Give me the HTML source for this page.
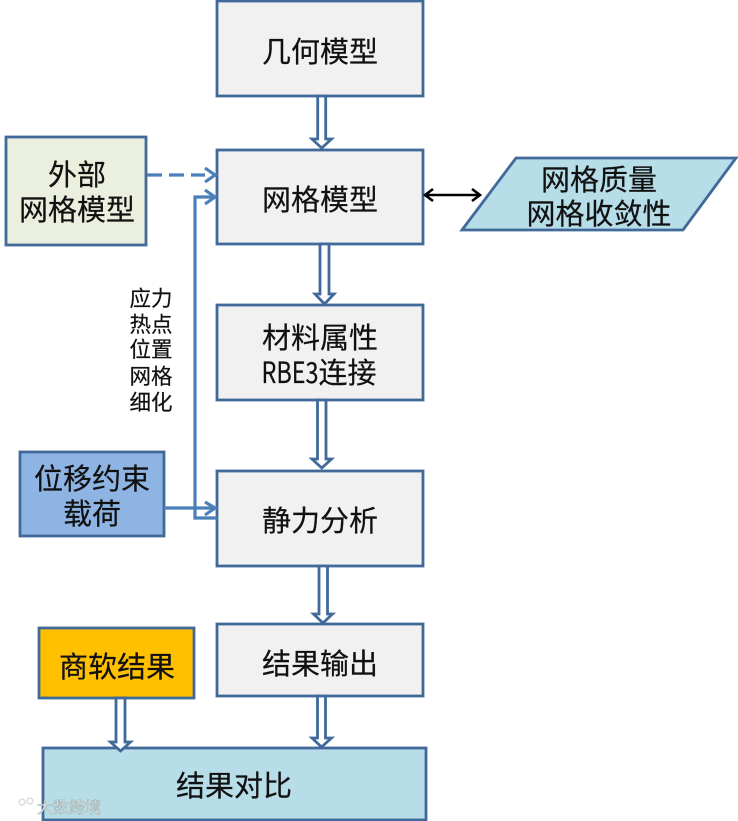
<!DOCTYPE html>
<html><head><meta charset="utf-8"><style>
html,body{margin:0;padding:0;background:#fff}
svg{display:block}
text{font-family:"Noto Sans CJK SC","Liberation Sans",sans-serif;fill:#111;stroke:#111;stroke-width:.2;text-anchor:middle}
.box{fill:#f1f1f2;stroke:#41699a;stroke-width:2.8}
.ar{fill:#fff;stroke:#41699a;stroke-width:2.8;stroke-linejoin:miter}
.t{font-size:29px}
.s{font-size:21.5px}
.l{fill:none;stroke:#4a7fba;stroke-width:3.2}
</style></head><body>
<svg width="738" height="821" viewBox="0 0 738 821" xmlns="http://www.w3.org/2000/svg">
<rect class="box" x="217" y="1" width="206" height="95"/>
<rect class="box" x="217" y="150" width="206" height="94"/>
<rect class="box" x="217" y="305" width="206" height="95"/>
<rect class="box" x="217" y="471" width="206" height="95"/>
<rect class="box" x="217" y="624" width="206" height="72"/>
<rect x="6" y="137" width="140" height="108" fill="#ebf0de" stroke="#41699a" stroke-width="2.8"/>
<rect x="20" y="452" width="144" height="84" fill="#8eb4e3" stroke="#41699a" stroke-width="2.8"/>
<rect x="39" y="628" width="155" height="70" fill="#ffc000" stroke="#41699a" stroke-width="2.8"/>
<rect x="43" y="748" width="383" height="72" fill="#b7dde8" stroke="#41699a" stroke-width="2.8"/>
<polygon points="516,158 736,158 683,230 462,230" fill="#b7dde8" stroke="#41699a" stroke-width="2.8"/>

<polygon class="ar" points="317.7,96 325.7,96 325.7,139 331.5,139 321.7,148 312,139 317.7,139"/>
<polygon class="ar" points="320,244 329,244 329,294 334,294 324.5,304 315,294 320,294"/>
<polygon class="ar" points="317.5,400 326,400 326,459 331.5,459 321.8,468 312,459 317.5,459"/>
<polygon class="ar" points="319,566 327.5,566 327.5,614 332.5,614 323,623 313.5,614 319,614"/>
<polygon class="ar" points="317.5,696 325.5,696 325.5,738 331.5,738 321.5,747 312,738 317.5,738"/>
<polygon class="ar" points="116,698 125,698 125,742 130.5,742 120.5,751 110.5,742 116,742"/>

<path class="l" d="M147 175H205" stroke-dasharray="15 7"/>
<path class="l" d="M205 168L215 175L205 182"/>
<path class="l" d="M217 518H195V197H215"/>
<path class="l" d="M205 190L215 197L205 204"/>
<path class="l" d="M164 508H215"/>
<path class="l" d="M205 502L215 508L205 515"/>
<path d="M427 195H478" stroke="#000" stroke-width="2.6" fill="none"/>
<path d="M433 189L425 195L433 201M472 189L480 195L472 201" stroke="#000" stroke-width="2.6" fill="none"/>

<text class="t" x="320" y="62">几何模型</text>
<text class="t" x="320" y="210">网格模型</text>
<text class="t" x="320" y="348">材料属性</text>
<text class="t" x="319" y="383"><tspan textLength="57" lengthAdjust="spacingAndGlyphs">RBE3</tspan>连接</text>
<text class="t" x="320" y="531">静力分析</text>
<text class="t" x="320" y="674">结果输出</text>
<text class="t" x="234" y="796">结果对比</text>
<text class="t" x="77" y="185">外部</text>
<text class="t" x="77" y="220">网格模型</text>
<text class="t" x="92" y="489">位移约束</text>
<text class="t" x="92" y="524">载荷</text>
<text class="t" x="117" y="677">商软结果</text>
<text class="t" x="599" y="190">网格质量</text>
<text class="t" x="599" y="224">网格收敛性</text>
<text class="s" x="151" y="306">应力</text>
<text class="s" x="151" y="332">热点</text>
<text class="s" x="151" y="357">位置</text>
<text class="s" x="151" y="384">网格</text>
<text class="s" x="151" y="410">细化</text>
<path d="M10 800V815M12 808L19 800M12 808L19 816H26" fill="none" stroke="#fff" stroke-width="3"/>
<circle cx="22" cy="802" r="3" fill="none" stroke="#ddd" stroke-width="1.5"/>
<circle cx="30" cy="801" r="3" fill="none" stroke="#ddd" stroke-width="1.5"/>
<text x="69" y="813" style="font-size:16px;fill:#eee;stroke:#9aa;stroke-width:.5">大数跨境</text>
</svg>
</body></html>
